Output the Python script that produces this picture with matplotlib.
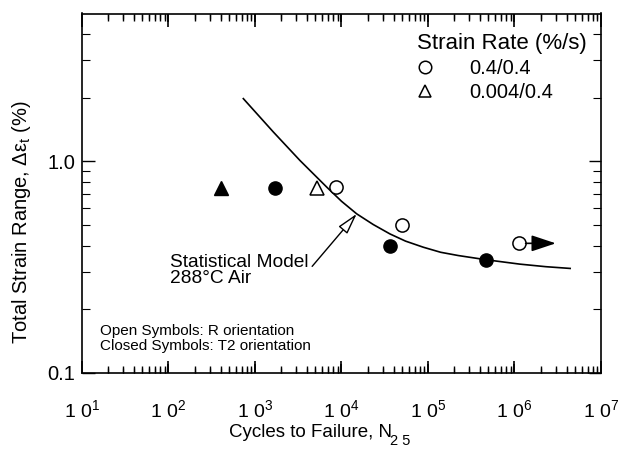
import math
import matplotlib
matplotlib.use('Agg')
import matplotlib.pyplot as plt
from matplotlib.ticker import FixedLocator, FuncFormatter, NullFormatter
from matplotlib.lines import Line2D

plt.rcParams['font.family'] = ['Liberation Sans', 'DejaVu Sans']
plt.rcParams['mathtext.fontset'] = 'custom'
plt.rcParams['mathtext.rm'] = 'Liberation Sans'
plt.rcParams['mathtext.it'] = 'Liberation Sans:italic'

# ---- data ----
model_N = [733, 1630, 3310, 6750, 10000, 15000, 23300, 36400, 55000, 88300,
           140000, 224000, 468000, 1150000, 2300000, 4400000]
model_strain = [1.98, 1.377, 1.01, 0.756, 0.648, 0.565, 0.503, 0.454, 0.42, 0.393,
                0.372, 0.359, 0.343, 0.327, 0.318, 0.312]

R_fast_N = [8600, 50000, 1130000]          # open circles, 0.4/0.4
R_fast_strain = [0.755, 0.50, 0.41]
R_slow_N = [5200]                          # open triangles, 0.004/0.4
R_slow_strain = [0.75]
T2_fast_N = [1700, 36000, 470000]          # filled circles
T2_fast_strain = [0.75, 0.40, 0.343]
T2_slow_N = [400]                          # filled triangles
T2_slow_strain = [0.75]

runout_N = 1130000
runout_end_N = 3.0e6
runout_strain = 0.41

x_decades = [1, 2, 3, 4, 5, 6, 7]
x_minor_mult = [2, 3, 4, 5, 6, 7, 8, 9]
y_major = [0.1, 1.0]
y_major_labels = ['0.1', '1.0']
y_minor = [0.2, 0.3, 0.4, 0.5, 0.6, 0.7, 0.8, 0.9, 2, 3, 4]

fig = plt.figure(figsize=(6.2, 4.5), dpi=100)
ax = fig.add_axes([82/620, 1-373/450, (601-82)/620, (373-13.5)/450])
ax.set_xscale('log')
ax.set_yscale('log')
ax.set_xlim(10, 1e7)
ax.set_ylim(0.1, 5)

ax.plot(model_N, model_strain, color='k', lw=1.2)

ms = 9.5
ax.plot(R_fast_N, R_fast_strain, 'o', ms=ms, mfc='white', mec='k', mew=1.1, ls='none')
ax.plot(R_slow_N, R_slow_strain, '^', ms=ms, mfc='white', mec='k', mew=1.1, ls='none')
ax.plot(T2_fast_N, T2_fast_strain, 'o', ms=ms, mfc='k', mec='k', ls='none')
ax.plot(T2_slow_N, T2_slow_strain, '^', ms=ms, mfc='k', mec='k', ls='none')

ax.annotate('', xy=(runout_end_N, runout_strain), xytext=(runout_N, runout_strain),
            arrowprops=dict(arrowstyle='-|>,head_length=1.5,head_width=0.5',
                            color='k', lw=1.2, shrinkA=4.7, shrinkB=0,
                            mutation_scale=10))

ax.annotate('Statistical Model\n288°C Air', xy=(15000, 0.565), xytext=(104, 0.365),
            textcoords='data', ha='left', va='top', fontsize=13.8, linespacing=0.95,
            arrowprops=dict(arrowstyle='-|>,head_length=1.3,head_width=0.35',
                            fc='white', ec='k', lw=1.0, shrinkA=1, shrinkB=0,
                            mutation_scale=10, relpos=(1.0, 0.5)))

ax.text(0.035, 0.055, 'Open Symbols: R orientation\nClosed Symbols: T2 orientation',
        transform=ax.transAxes, ha='left', va='bottom', fontsize=11, linespacing=1.1)

handles = [Line2D([], [], marker='o', ls='none', mfc='white', mec='k', ms=9, mew=1.1),
           Line2D([], [], marker='^', ls='none', mfc='white', mec='k', ms=9, mew=1.1)]
leg = ax.legend(handles, ['0.4/0.4', '0.004/0.4'], title='Strain Rate (%/s)',
                title_fontsize=16, fontsize=14.5, frameon=False, loc='upper left',
                bbox_to_anchor=(0.645, 0.945), handletextpad=1.75, handlelength=0.85,
                labelspacing=0.25, borderpad=0, borderaxespad=0, alignment='left')

# ticks
x_major_pos = [10.0**d for d in x_decades]
x_minor_pos = [m * 10.0**d for d in x_decades[:-1] for m in x_minor_mult]
ax.xaxis.set_major_locator(FixedLocator(x_major_pos))
ax.xaxis.set_major_formatter(FuncFormatter(lambda v, p: '1 0$^{%d}$' % round(math.log10(v))))
ax.xaxis.set_minor_locator(FixedLocator(x_minor_pos))
ax.xaxis.set_minor_formatter(NullFormatter())
ax.yaxis.set_major_locator(FixedLocator(y_major))
ax.yaxis.set_major_formatter(FuncFormatter(lambda v, p: y_major_labels[y_major.index(min(y_major, key=lambda t: abs(t - v)))]))
ax.yaxis.set_minor_locator(FixedLocator(y_minor))
ax.yaxis.set_minor_formatter(NullFormatter())

ax.tick_params(axis='x', which='both', direction='in', top=True, bottom=True)
ax.tick_params(axis='x', which='major', length=9, width=1.2, pad=19, labelsize=14)
ax.tick_params(axis='x', which='minor', length=5, width=1.0)
ax.tick_params(axis='y', which='both', direction='in', left=True, right=True)
ax.tick_params(axis='y', which='major', length=9, width=1.0, pad=5, labelsize=14.5)
ax.tick_params(axis='y', which='minor', length=6, width=0.8)
for s in ax.spines.values():
    s.set_linewidth(1.2)

# reinforce the x tick marks on bottom and top edges (axes-fraction lengths)
xt = ax.get_xaxis_transform()
ax.vlines(x_major_pos[1:-1], 0, 0.025, transform=xt, colors='k', lw=1.2, clip_on=False)
ax.vlines(x_major_pos[1:-1], 0.975, 1, transform=xt, colors='k', lw=1.2, clip_on=False)
ax.vlines(x_minor_pos, 0, 0.014, transform=xt, colors='k', lw=0.9, clip_on=False)
ax.vlines(x_minor_pos, 0.986, 1, transform=xt, colors='k', lw=0.9, clip_on=False)

ax.set_xlabel('Cycles to Failure, N', fontsize=13.5, labelpad=2)
ax.xaxis.label.set_x(0.44)
ax.text(0.593, -0.19, '2 5', transform=ax.transAxes, fontsize=10.5, ha='left', va='center')
ax.set_ylabel('Total Strain Range, Δε$_{\\mathrm{t}}$ (%)', fontsize=14.5, labelpad=10)
ax.yaxis.label.set_y(0.42)

fig.savefig('out.png', dpi=100)
